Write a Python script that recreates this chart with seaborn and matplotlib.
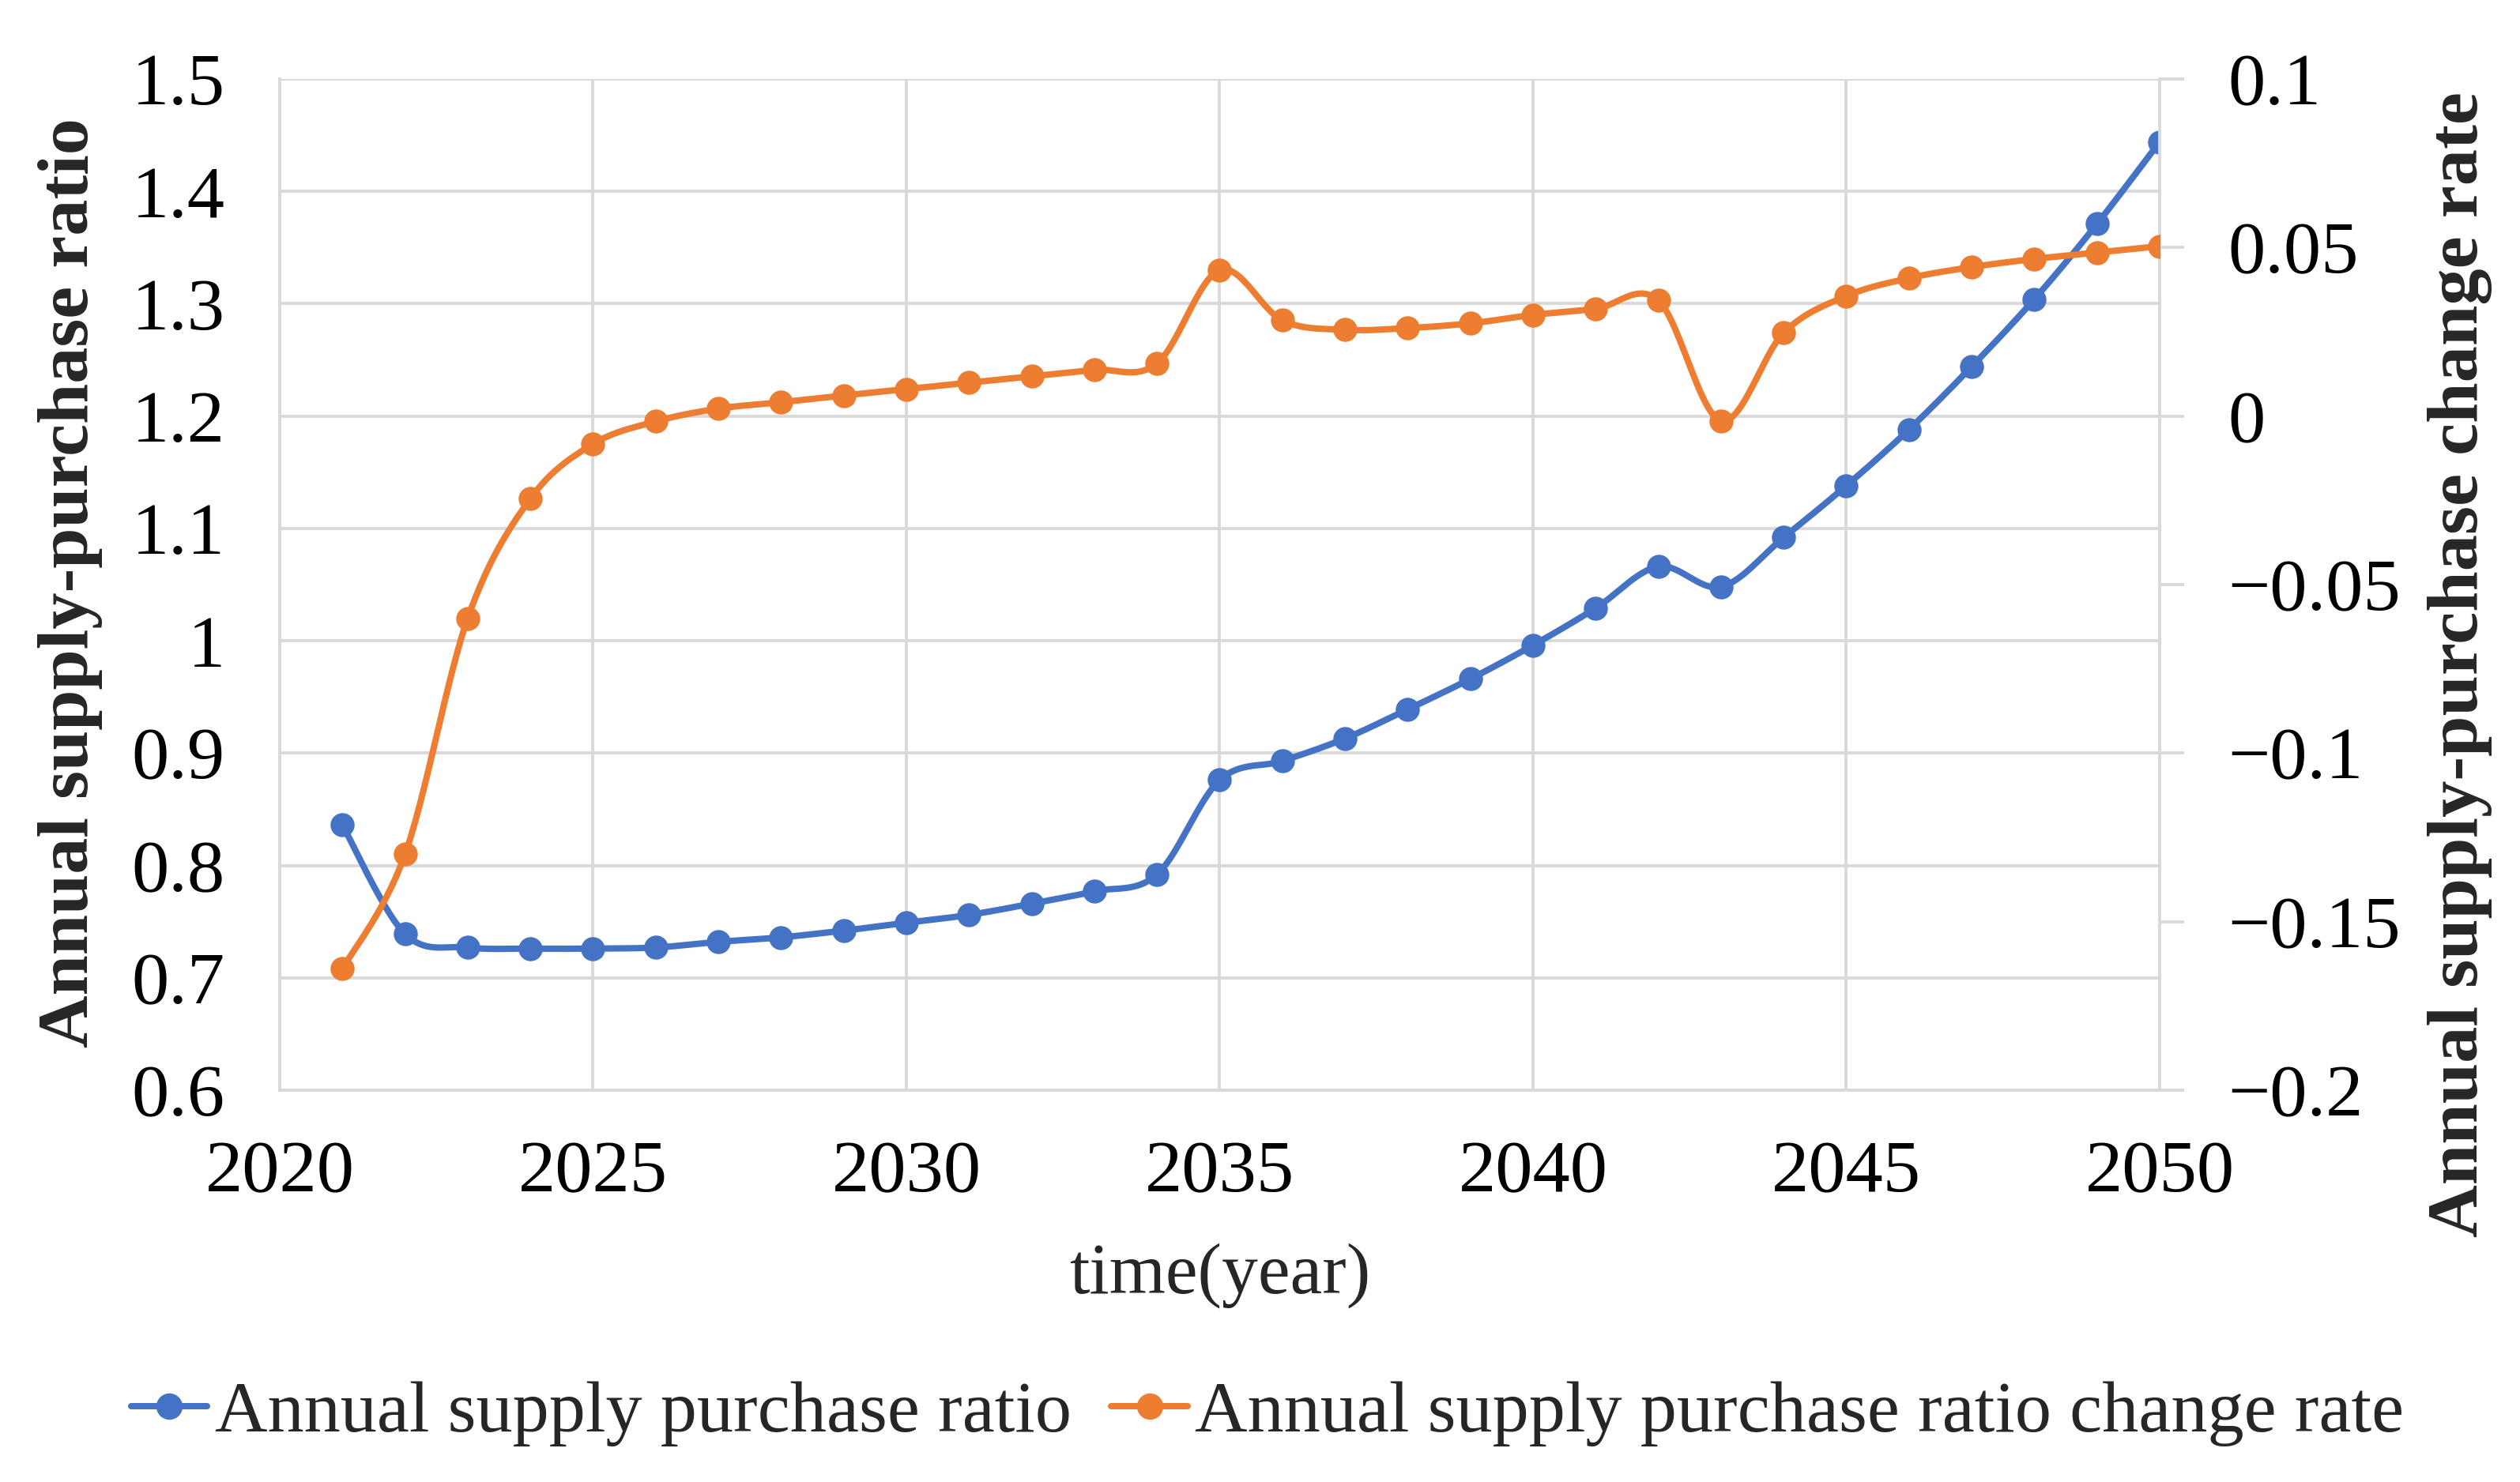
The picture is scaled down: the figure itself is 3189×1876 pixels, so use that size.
import numpy as np
import pandas as pd
import matplotlib
matplotlib.use("Agg")
import matplotlib.pyplot as plt
import seaborn as sns
from matplotlib.lines import Line2D
from matplotlib.ticker import FixedLocator, FuncFormatter

# data
years = list(range(2021, 2051))
ratio = [0.836, 0.739, 0.727, 0.726, 0.726, 0.727, 0.732, 0.736, 0.742, 0.749,
         0.756, 0.766, 0.777, 0.792, 0.876, 0.893, 0.913, 0.939, 0.966, 0.996,
         1.029, 1.066, 1.048, 1.092, 1.138, 1.188, 1.244, 1.304, 1.371, 1.444]
change_rate = [-0.164, -0.130, -0.060, -0.0245, -0.0083, -0.0016, 0.0022, 0.0041,
               0.0061, 0.0080, 0.0099, 0.0118, 0.0137, 0.0156, 0.0433, 0.0284,
               0.0256, 0.0261, 0.0275, 0.0300, 0.0318, 0.0343, -0.0014, 0.0247,
               0.0356, 0.0409, 0.0442, 0.0466, 0.0485, 0.0504]
left_ticks = [0.6, 0.7, 0.8, 0.9, 1.0, 1.1, 1.2, 1.3, 1.4, 1.5]
right_ticks = [-0.2, -0.15, -0.1, -0.05, 0, 0.05, 0.1]
year_ticks = [2020, 2025, 2030, 2035, 2040, 2045, 2050]

BLUE = "#4472C4"
ORANGE = "#ED7D31"
GRID = "#D9D9D9"


def smooth(x, y, n=30):
    """Excel-style smoothed line (Catmull-Rom through the points)."""
    x = np.asarray(x, float)
    y = np.asarray(y, float)
    px = np.concatenate([[x[0]], x, [x[-1]]])
    py = np.concatenate([[y[0]], y, [y[-1]]])
    xs, ys = [], []
    t = np.linspace(0, 1, n, endpoint=False)
    for i in range(1, len(px) - 2):
        p0 = np.array([px[i], py[i]])
        p3 = np.array([px[i + 1], py[i + 1]])
        c1 = p0 + (p3 - np.array([px[i - 1], py[i - 1]])) / 6
        c2 = p3 - (np.array([px[i + 2], py[i + 2]]) - p0) / 6
        pts = ((1 - t) ** 3)[:, None] * p0 + (3 * (1 - t) ** 2 * t)[:, None] * c1 \
            + (3 * (1 - t) * t ** 2)[:, None] * c2 + (t ** 3)[:, None] * p3
        xs.extend(pts[:, 0])
        ys.extend(pts[:, 1])
    xs.append(x[-1])
    ys.append(y[-1])
    return pd.DataFrame({"x": xs, "y": ys})


sns.set_theme(style="white")
plt.rcParams["font.family"] = ["Liberation Serif", "DejaVu Serif"]
plt.rcParams["axes.unicode_minus"] = True

fig = plt.figure(figsize=(15.945, 9.38), dpi=200)
ax = fig.add_axes([0.111, 0.2644, 0.746, 0.6823])
ax2 = ax.twinx()

df = pd.DataFrame({"year": years, "ratio": ratio, "rate": change_rate})

# grid from left axis only
ax.set_axisbelow(True)
ax.yaxis.grid(True, color=GRID, linewidth=1.4)
ax.xaxis.grid(True, color=GRID, linewidth=1.4)

s1 = smooth(years, ratio)
s2 = smooth(years, change_rate)
sns.lineplot(data=s1, x="x", y="y", ax=ax, color=BLUE, linewidth=2.9, sort=False)
sns.scatterplot(data=df, x="year", y="ratio", ax=ax, color=BLUE, s=120,
                edgecolor=BLUE, linewidth=0, zorder=3)
sns.lineplot(data=s2, x="x", y="y", ax=ax2, color=ORANGE, linewidth=2.9, sort=False)
sns.scatterplot(data=df, x="year", y="rate", ax=ax2, color=ORANGE, s=120,
                edgecolor=ORANGE, linewidth=0, zorder=3)

ax.set_xlim(2020, 2050)
ax.set_ylim(0.6, 1.5)
ax2.set_ylim(-0.2, 0.1)
ax.xaxis.set_major_locator(FixedLocator(year_ticks))
ax.yaxis.set_major_locator(FixedLocator(left_ticks))
ax2.yaxis.set_major_locator(FixedLocator(right_ticks))
ax.yaxis.set_major_formatter(FuncFormatter(lambda v, p: f"{v:g}"))
ax2.yaxis.set_major_formatter(FuncFormatter(lambda v, p: f"{v:g}".replace("-", "\u2212")))

for a in (ax, ax2):
    for side in ("top", "left", "right", "bottom"):
        a.spines[side].set_visible(False)
ax.spines["left"].set_visible(True)
ax.spines["bottom"].set_visible(True)
ax2.spines["right"].set_visible(True)
for sp in (ax.spines["left"], ax.spines["bottom"], ax2.spines["right"]):
    sp.set_color(GRID)
    sp.set_linewidth(1.4)

ax.tick_params(axis="both", length=0, labelsize=34, colors="black")
ax.tick_params(axis="y", pad=25)
ax.tick_params(axis="x", pad=23)
ax2.tick_params(axis="y", direction="out", length=11, width=1.4, color=GRID,
                labelsize=34, labelcolor="black", pad=20)

ax.set_xlabel("time(year)", fontsize=33, labelpad=16)
ax.set_ylabel("Annual supply-purchase ratio", fontsize=33.2, fontweight="bold")
ax.yaxis.set_label_coords(-0.094, 0.502)
ax2.set_ylabel("Annual supply-purchase change rate", fontsize=33.3, fontweight="bold")
ax2.yaxis.set_label_coords(1.1426, 0.421)

handles = [
    Line2D([], [], color=BLUE, linewidth=2.9, marker="o", markersize=11),
    Line2D([], [], color=ORANGE, linewidth=2.9, marker="o", markersize=11),
]
fig.legend(handles, ["Annual supply purchase ratio",
                     "Annual supply purchase ratio change rate"],
           loc="center", bbox_to_anchor=(0.503, 0.046), ncol=2, frameon=False,
           fontsize=33.2, handlelength=1.05, handletextpad=0.1, columnspacing=0.55)

fig.savefig("out.png", dpi=200, facecolor="white")
plt.close(fig)
